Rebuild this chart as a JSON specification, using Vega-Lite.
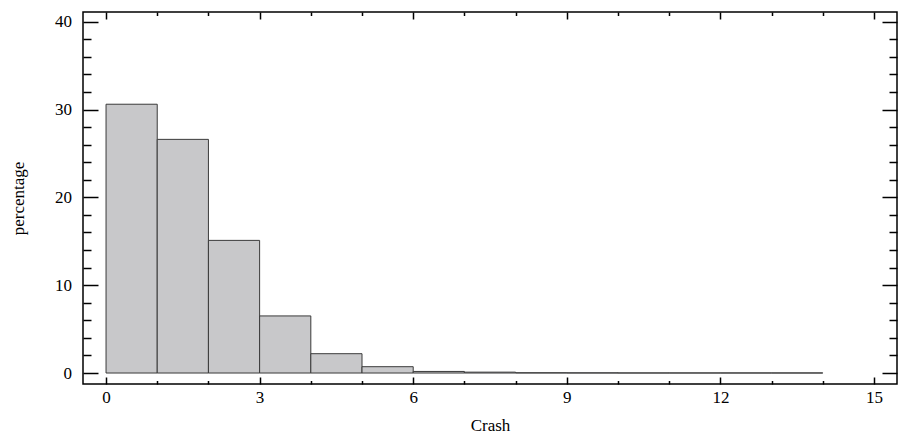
{
  "$schema": "https://vega.github.io/schema/vega-lite/v6.json",
  "width": 814,
  "height": 372,
  "autosize": {"type": "none"},
  "padding": {"left": 83, "top": 12, "right": 7, "bottom": 55},
  "config": {
    "view": {"stroke": "#000000", "strokeWidth": 1.5},
    "font": "Liberation Serif",
    "axis": {
      "domain": false,
      "grid": false,
      "tickColor": "#000000",
      "tickWidth": 1.5,
      "labelFont": "Liberation Serif",
      "labelFontSize": 17,
      "labelColor": "#000000",
      "titleFont": "Liberation Serif",
      "titleFontSize": 17,
      "titleFontWeight": "normal",
      "titleColor": "#000000"
    }
  },
  "data": {
    "values": [
      {"bin_start": 0, "bin_end": 1, "percentage": 30.6},
      {"bin_start": 1, "bin_end": 2, "percentage": 26.6},
      {"bin_start": 2, "bin_end": 3, "percentage": 15.1},
      {"bin_start": 3, "bin_end": 4, "percentage": 6.5},
      {"bin_start": 4, "bin_end": 5, "percentage": 2.2},
      {"bin_start": 5, "bin_end": 6, "percentage": 0.72},
      {"bin_start": 6, "bin_end": 7, "percentage": 0.18},
      {"bin_start": 7, "bin_end": 8, "percentage": 0.1},
      {"bin_start": 8, "bin_end": 9, "percentage": 0.03},
      {"bin_start": 9, "bin_end": 10, "percentage": 0.02},
      {"bin_start": 10, "bin_end": 11, "percentage": 0.01},
      {"bin_start": 11, "bin_end": 12, "percentage": 0.01},
      {"bin_start": 12, "bin_end": 13, "percentage": 0.01},
      {"bin_start": 13, "bin_end": 14, "percentage": 0.01}
    ]
  },
  "layer": [
    {
      "mark": {"type": "rect", "fill": "#c8c8ca", "stroke": "#3a3a3a", "strokeWidth": 1},
      "encoding": {
        "x": {
          "field": "bin_start",
          "type": "quantitative",
          "scale": {"domain": [-0.45, 15.45], "nice": false, "zero": false},
          "axis": {
            "orient": "bottom",
            "title": "Crash",
            "values": [0, 1, 2, 3, 4, 5, 6, 7, 8, 9, 10, 11, 12, 13, 14, 15],
            "tickSize": {"condition": {"test": "datum.value % 3 === 0", "value": -7}, "value": -3.5},
            "labelExpr": "datum.value % 3 === 0 ? datum.label : ''",
            "labelPadding": 12,
            "titlePadding": 12
          }
        },
        "x2": {"field": "bin_end"},
        "y": {
          "field": "percentage",
          "type": "quantitative",
          "scale": {"domain": [-1.25, 41.1], "nice": false, "zero": false},
          "axis": {
            "orient": "left",
            "title": "percentage",
            "values": [0, 2, 4, 6, 8, 10, 12, 14, 16, 18, 20, 22, 24, 26, 28, 30, 32, 34, 36, 38, 40],
            "tickSize": {"condition": {"test": "datum.value % 10 === 0", "value": -15}, "value": -8},
            "labelExpr": "datum.value % 10 === 0 ? datum.label : ''",
            "labelPadding": 26.5,
            "titlePadding": 27
          }
        },
        "y2": {"datum": 0}
      }
    },
    {
      "mark": {"type": "point", "opacity": 0},
      "encoding": {
        "x": {
          "field": "bin_start",
          "type": "quantitative",
          "axis": {
            "orient": "top",
            "title": null,
            "labels": false,
            "values": [0, 1, 2, 3, 4, 5, 6, 7, 8, 9, 10, 11, 12, 13, 14, 15],
            "tickSize": {"condition": {"test": "datum.value % 3 === 0", "value": -7}, "value": -3.5}
          }
        },
        "y": {
          "field": "percentage",
          "type": "quantitative",
          "axis": {
            "orient": "right",
            "title": null,
            "labels": false,
            "values": [0, 2, 4, 6, 8, 10, 12, 14, 16, 18, 20, 22, 24, 26, 28, 30, 32, 34, 36, 38, 40],
            "tickSize": {"condition": {"test": "datum.value % 10 === 0", "value": -15}, "value": -8}
          }
        }
      }
    }
  ],
  "resolve": {"axis": {"x": "independent", "y": "independent"}}
}
